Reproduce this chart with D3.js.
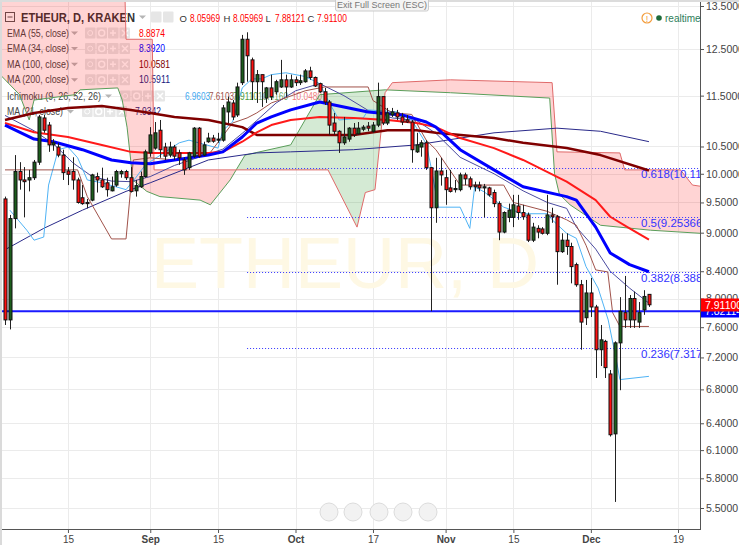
<!DOCTYPE html>
<html>
<head>
<meta charset="utf-8">
<script src="https://cdnjs.cloudflare.com/ajax/libs/d3/7.8.5/d3.min.js"></script>
<style>
  body { margin: 0; background: #fff; }
  text { font-family: Arial, "Liberation Sans", sans-serif; }
</style>
</head>
<body>
<div id="chart"></div>
<script>
// ETHEUR daily candles, Kraken, from 2 Aug 2016
const firstDay = "2016-08-02";
const opens = [9.56, 7.70, 9.23, 10.04, 9.89, 9.89, 9.93, 10.21, 11.05, 10.91,
  10.53, 10.49, 10.34, 10.05, 10.04, 9.89, 9.58, 9.50, 9.54, 9.95,
  9.89, 9.84, 9.70, 9.80, 10.00, 10.04, 9.93, 9.70, 9.77, 9.95,
  10.38, 10.47, 10.81, 10.49, 10.34, 10.49, 10.38, 10.25, 10.11, 10.32,
  10.85, 10.34, 10.59, 10.66, 10.62, 10.62, 11.17, 11.35, 11.11, 11.77,
  12.72, 12.26, 11.79, 11.94, 11.45, 11.66, 11.58, 11.68, 11.83, 11.68,
  11.83, 11.77, 11.79, 12.02, 11.88, 11.75, 11.58, 11.37, 10.95, 10.79,
  10.57, 10.64, 10.85, 10.74, 10.83, 10.89, 10.79, 10.91, 11.48, 10.95,
  11.11, 11.15, 11.07, 11.01, 10.97, 10.40, 10.49, 10.57, 10.11, 9.41,
  10.05, 9.93, 9.75, 9.72, 9.72, 9.98, 9.91, 9.80, 9.80, 9.75,
  9.75, 9.67, 9.48, 9.01, 9.25, 9.25, 9.44, 9.33, 9.29, 8.88,
  9.07, 9.06, 8.99, 9.29, 9.26, 8.70, 8.88, 8.78, 8.50, 8.20,
  7.73, 8.08, 7.88, 7.30, 7.41, 6.99, 6.28, 7.39, 7.80, 7.70,
  8.00, 7.67, 7.84, 8.05969];
const highs = [9.60, 9.29, 10.34, 10.21, 10.12, 10.07, 10.25, 11.11, 11.11, 10.97,
  10.64, 10.57, 10.44, 10.12, 10.30, 9.93, 9.80, 9.56, 10.00, 10.02,
  10.11, 9.93, 9.95, 10.07, 10.07, 10.07, 10.12, 9.89, 10.04, 10.44,
  10.87, 10.97, 11.01, 10.57, 10.59, 10.53, 10.44, 10.30, 10.40, 10.87,
  10.87, 10.59, 10.76, 10.72, 10.76, 11.31, 11.48, 11.41, 11.77, 12.82,
  12.88, 12.31, 12.04, 11.94, 11.68, 11.94, 11.83, 12.26, 11.94, 11.94,
  11.90, 11.94, 12.06, 12.11, 11.90, 11.77, 11.66, 11.41, 11.15, 10.81,
  11.07, 10.87, 10.95, 10.97, 10.91, 10.97, 10.97, 11.77, 11.48, 11.25,
  11.25, 11.21, 11.15, 11.11, 11.01, 10.76, 10.62, 10.62, 10.12, 10.29,
  10.29, 10.07, 10.07, 9.89, 10.02, 10.02, 9.95, 9.86, 9.86, 9.82,
  9.77, 9.72, 9.52, 9.35, 9.48, 9.63, 9.63, 9.46, 9.33, 9.16,
  9.12, 9.09, 9.63, 9.41, 9.29, 8.99, 8.99, 8.84, 8.53, 8.27,
  8.27, 8.30, 7.91, 7.63, 7.43, 7.04, 7.41, 8.02, 8.33, 8.05,
  8.10, 7.95, 8.12, 8.05969];
const lows = [7.63, 7.57, 9.07, 9.72, 9.25, 9.69, 9.89, 10.16, 10.76, 10.40,
  10.42, 10.30, 9.89, 9.80, 9.72, 9.48, 9.46, 9.40, 9.52, 9.67,
  9.75, 9.60, 9.69, 9.77, 9.93, 9.89, 9.67, 9.60, 9.75, 9.93,
  10.31, 10.44, 10.29, 10.25, 10.30, 10.25, 10.16, 9.98, 10.07, 10.29,
  10.29, 10.32, 10.57, 10.57, 10.57, 10.59, 10.95, 11.01, 11.07, 11.72,
  11.79, 11.41, 11.35, 11.27, 11.35, 11.41, 11.52, 11.66, 11.48, 11.66,
  11.70, 11.72, 11.77, 11.83, 11.68, 11.56, 11.31, 10.72, 10.72, 10.38,
  10.53, 10.59, 10.68, 10.72, 10.79, 10.79, 10.76, 10.87, 10.91, 10.91,
  11.07, 11.01, 10.91, 10.95, 10.20, 10.38, 10.31, 10.07, 7.82, 9.16,
  9.79, 9.46, 9.67, 9.67, 9.69, 9.80, 9.72, 9.69, 9.69, 9.25,
  9.60, 9.42, 8.88, 8.99, 9.17, 9.09, 9.21, 9.21, 8.85, 8.85,
  8.91, 8.97, 8.96, 9.16, 8.20, 8.68, 8.65, 8.22, 8.17, 7.30,
  7.63, 7.74, 6.94, 7.09, 6.94, 6.25, 5.56, 6.79, 7.59, 7.59,
  7.59, 7.59, 7.77, 7.88121];
const closes = [7.70, 9.23, 10.04, 9.89, 9.86, 9.93, 10.21, 11.07, 10.81, 10.53,
  10.57, 10.34, 10.02, 9.99, 9.89, 9.50, 9.48, 9.48, 9.98, 9.89,
  9.77, 9.72, 9.77, 10.04, 10.04, 9.93, 9.69, 9.79, 9.95, 10.40,
  10.72, 10.76, 10.44, 10.32, 10.49, 10.32, 10.29, 10.07, 10.38, 10.85,
  10.32, 10.53, 10.66, 10.60, 10.64, 11.25, 11.37, 11.07, 11.68, 12.72,
  12.35, 11.79, 11.94, 11.79, 11.66, 11.48, 11.79, 11.83, 11.68, 11.83,
  11.77, 11.81, 12.02, 11.88, 11.70, 11.58, 11.37, 10.91, 10.79, 10.57,
  10.68, 10.85, 10.72, 10.85, 10.87, 10.85, 10.91, 11.48, 10.95, 11.15,
  11.17, 11.07, 10.97, 10.97, 10.44, 10.53, 10.57, 10.11, 9.41, 10.05,
  9.98, 9.72, 9.69, 9.74, 9.98, 9.91, 9.77, 9.77, 9.75, 9.77,
  9.63, 9.48, 9.01, 9.33, 9.37, 9.46, 9.33, 9.26, 8.88, 9.09,
  9.01, 8.99, 9.29, 9.26, 8.70, 8.88, 8.78, 8.47, 8.20, 7.67,
  8.08, 7.88, 7.30, 7.43, 7.07, 6.27, 7.39, 7.82, 7.70, 8.00,
  7.70, 7.80, 8.03, 7.91100];

// indicator lines: [day from firstDay, price]
const ema55 = [[0,10.95],[6,10.77],[13,10.68],[20,10.53],[26,10.40],[30,10.38],[35,10.38],[42,10.38],[45,10.40],
  [49,10.59],[52,10.77],[55,10.91],[59,11.01],[65,11.07],[72,11.05],[79,11.01],[85,10.95],[89,10.87],[94,10.66],
  [101,10.47],[107,10.25],[116,9.86],[122,9.54],[125,9.26],[129,9.07],[133,8.8874]];
const ema34 = [[0,10.91],[6,10.64],[10,10.59],[16,10.44],[22,10.25],[26,10.20],[30,10.18],[35,10.25],[42,10.34],
  [45,10.40],[49,10.68],[52,10.95],[55,11.07],[59,11.21],[65,11.37],[68,11.31],[75,11.17],[82,11.11],[87,10.97],
  [89,10.87],[94,10.44],[101,10.07],[107,9.77],[116,9.60],[118,9.54],[122,9.09],[125,8.68],[129,8.50],[133,8.3920]];
const ma100 = [[0,11.01],[6,11.15],[13,11.25],[20,11.29],[26,11.21],[30,11.15],[35,11.07],[42,11.01],[49,10.87],
  [52,10.72],[59,10.72],[72,10.72],[79,10.81],[85,10.81],[89,10.76],[101,10.66],[107,10.57],[116,10.47],
  [123,10.34],[133,10.0581]];
const ma200 = [[0,8.73],[8,9.07],[16,9.37],[25,9.69],[30,9.84],[42,10.25],[52,10.38],[59,10.40],[72,10.44],
  [85,10.53],[101,10.76],[114,10.85],[123,10.79],[133,10.5911]];
const ma21 = [[0,11.10],[6,10.80],[10,10.55],[14,10.20],[18,9.95],[22,9.87],[26,9.86],[30,9.95],[35,10.15],
  [40,10.30],[45,10.45],[49,10.75],[52,11.00],[56,11.35],[60,11.60],[65,11.75],[70,11.50],[75,11.20],[80,11.05],
  [85,11.00],[89,10.75],[94,10.30],[101,10.00],[107,9.70],[112,9.50],[116,9.40],[118,9.09],[122,8.74],[125,8.40],
  [129,8.15],[133,7.9342]];
const tenkan = [[1,9.37],[4.5,9.04],[6,8.88],[8,8.93],[9,9.80],[11,10.44],[13,10.49],[15,10.29],[17,9.89],
  [20,9.84],[25,9.72],[27,9.93],[29,10.16],[36,10.57],[38,10.62],[44,10.47],[45,10.81],[47,10.97],[49,11.66],
  [51,11.85],[53,11.85],[55,11.94],[58,11.98],[62,11.90],[65,11.75],[67,11.35],[69,11.01],[74,11.05],[75,11.21],
  [81,11.17],[84,11.01],[87,10.55],[88,10.12],[89.5,9.42],[94,9.42],[96,9.07],[97,9.77],[99,9.68],[103,9.42],
  [107,9.31],[112,9.31],[113,9.21],[116,8.99],[118,8.91],[120,8.47],[122.5,8.15],[124.6,7.70],[126.5,7.09],
  [127,6.92],[133,6.9603]];
const kijun = [[0,10.07],[15,10.07],[17,9.60],[22,8.90],[25,8.90],[26.5,10.25],[30,10.29],[35,10.25],[42,10.34],
  [47,10.95],[50,11.05],[52,11.15],[55,11.35],[62,11.60],[66,11.68],[75,11.68],[76,11.40],[80,11.15],[84,11.12],
  [87,10.62],[89,10.44],[94,9.80],[103,9.80],[105,9.50],[112,9.35],[116,9.21],[118,9.12],[120,8.80],[122,8.42],
  [124.5,8.39],[125.5,7.80],[127,7.6103],[133,7.6103]];
const leadA = [[-1,11.94],[3,11.52],[5,11.01],[6,11.41],[14.5,11.52],[15.5,11.62],[23.3,11.66],[24.2,11.41],
  [25.2,10.87],[26.4,9.89],[29.3,9.69],[32,9.60],[40.3,9.54],[42.4,9.46],[46.5,9.89],[49.6,10.34],[59,10.53],
  [65,11.52],[78.5,11.62],[92,11.56],[112.5,11.45],[113.5,10.0],[114.5,9.64],[116.7,9.46],[123,9.12],
  [133.3,9.04],[143.6,8.99]];
const leadB = [[-1,14.7],[24.6,14.7],[25,12.72],[30.4,12.72],[30.8,10.07],[66.7,10.07],[72.7,9.09],[74.4,9.67],
  [76.4,9.72],[78.5,11.56],[80,11.77],[92,11.83],[113,11.77],[114,10.40],[127,10.38],[128,10.07],[139.5,10.07],
  [142,9.80],[143.6,9.78]];

// fibonacci retracement levels
const fibLevels = [0.618, 0.5, 0.382, 0.236];
const fibPrices = [10.11, 9.25366, 8.388, 7.317];
const fibStartDay = 50;
const supportLine = 7.82114;

const yTicks = [13.5, 12.5, 11.5, 10.5, 10, 9.5, 9, 8.4, 8, 7.6, 7.2, 6.8, 6.4, 6.1, 5.8, 5.5];
const xTickDates = ["2016-08-15", "2016-09-01", "2016-09-15", "2016-10-01", "2016-10-17",
  "2016-11-01", "2016-11-15", "2016-12-01", "2016-12-19"];
const xTickLabels = ["15", "Sep", "15", "Oct", "17", "Nov", "15", "Dec", "19"];

const legendRows = [
  { name: "EMA (55, close)", value: "8.8874", color: "#ff0000" },
  { name: "EMA (34, close)", value: "8.3920", color: "#0000ff" },
  { name: "MA (100, close)", value: "10.0581", color: "#800000" },
  { name: "MA (200, close)", value: "10.5911", color: "#1a1a80" }
];
const ichiValues = ["6.9603", "7.6103", "7.9110", "10.4160", "10.0480"];
const ichiColors = ["#3ea8f0", "#a0524a", "#4a9a3a", "#6aa86a", "#f08080"];

const W = 739, H = 545, plotW = 700, plotH = 529;
const parse = d3.utcParse("%Y-%m-%d");
const day0 = parse(firstDay);
const day = i => d3.utcHour.offset(day0, Math.round(i * 24));

const x = d3.scaleUtc().domain([day0, parse("2016-12-19")]).range([5, 678]);
const y = d3.scaleLog().domain([5.5, 13.5]).range([508, 6]);

const svg = d3.select("#chart").append("svg").attr("width", W).attr("height", H);

svg.append("defs").append("clipPath").attr("id", "plot")
  .append("rect").attr("width", plotW).attr("height", plotH);

// grid
const grid = svg.append("g");
grid.selectAll(".hg").data(yTicks).enter().append("line")
  .attr("x1", 0).attr("x2", plotW)
  .attr("y1", d => Math.round(y(d)) + 0.5).attr("y2", d => Math.round(y(d)) + 0.5)
  .attr("stroke", "#ebebeb");
grid.selectAll(".vg").data(xTickDates).enter().append("line")
  .attr("x1", d => Math.round(x(parse(d))) + 0.5).attr("x2", d => Math.round(x(parse(d))) + 0.5)
  .attr("y1", 0).attr("y2", plotH)
  .attr("stroke", "#ebebeb");

// watermark
svg.append("text").attr("x", 345).attr("y", 288).attr("text-anchor", "middle")
  .attr("font-size", 72).attr("fill", "#fef8e4").text("ETHEUR, D");

// legend (sits under the plot marks)
const lg = svg.append("g");
const lf = 10;
function icons(g, x0, yc) {
  [0, 1, 2, 3].forEach(k => {
    g.append("rect").attr("x", x0 + k * 11.5).attr("y", yc - 5.5).attr("width", 10.5).attr("height", 11)
      .attr("rx", 1).attr("fill", "#e6e6e6");
  });
  g.append("circle").attr("cx", x0 + 5.2).attr("cy", yc).attr("r", 2.5).attr("fill", "none").attr("stroke", "#fff");
  g.append("circle").attr("cx", x0 + 16.7).attr("cy", yc).attr("r", 3).attr("fill", "none").attr("stroke", "#fff").attr("stroke-width", 1.5);
  g.append("path").attr("d", `M${x0 + 25},${yc}h6M${x0 + 28},${yc - 3}v6`).attr("stroke", "#fff").attr("stroke-width", 1.5);
  g.append("path").attr("d", `M${x0 + 37},${yc - 3}l6,6M${x0 + 43},${yc - 3}l-6,6`).attr("stroke", "#fff").attr("stroke-width", 1.5);
}
function label(xx, yy, txt, width, opts) {
  const t = lg.append("text").attr("x", xx).attr("y", yy).attr("font-size", opts.size || lf)
    .attr("fill", opts.color || "#444").text(txt);
  if (opts.bold) t.attr("font-weight", "bold");
  if (width) t.attr("textLength", width).attr("lengthAdjust", "spacingAndGlyphs");
  return t;
}
function arrow(xx, yy) {
  lg.append("path").attr("d", `M${xx},${yy - 1.5}l3.5,3.5l3.5,-3.5z`).attr("fill", "#b5b5b5");
}
// header
lg.append("rect").attr("x", 5.5).attr("y", 12.5).attr("width", 9).attr("height", 9).attr("fill", "none").attr("stroke", "#555");
lg.append("line").attr("x1", 7.5).attr("x2", 12.5).attr("y1", 17).attr("y2", 17).attr("stroke", "#555");
label(21, 22, "ETHEUR, D, KRAKEN", 114, { size: 12.5, bold: true, color: "#333" });
arrow(139, 17);
[151, 163].forEach(xx => {
  lg.append("rect").attr("x", xx).attr("y", 11.5).attr("width", 10.5).attr("height", 11).attr("rx", 1).attr("fill", "#e6e6e6");
});
const ohlcTxt = [["O", 179.5], ["8.05969", 190], ["H", 223.5], ["8.05969", 233], ["L", 265.5], ["7.88121", 275], ["C", 307.5], ["7.91100", 317]];
ohlcTxt.forEach((t, k) => {
  label(t[1], 21.5, t[0], k % 2 ? 30 : 0, { size: k % 2 ? 10 : 9.5, color: k % 2 ? "#ff0000" : "#333" });
});
legendRows.forEach((r, k) => {
  const yc = 33 + k * 15.6;
  label(7, yc + 3.5, r.name, 62, {});
  arrow(71, yc);
  icons(lg, 85, yc);
  label(139, yc + 3.5, r.value, r.value.length > 6 ? 31 : 26, { color: r.color });
});
label(7, 99.5, "Ichimoku (9, 26, 52, 26)", 94, {});
arrow(105, 96);
icons(lg, 120, 96);
[185, 209, 233, 258, 292].forEach((xx, k) => {
  label(xx, 99.5, ichiValues[k], ichiValues[k].length > 6 ? 30 : 25, { color: ichiColors[k] });
});
label(7, 115, "MA (21, close)", 56, {});
arrow(67, 111.5);
icons(lg, 82, 111.5);
label(135, 115, "7.9342", 26, { color: "#1a1a80" });

// plot
const plot = svg.append("g").attr("clip-path", "url(#plot)");
const px = d => x(day(d[0]));
const py = d => y(d[1]);

// ichimoku cloud: pink where span B is above span A, green where span A is above
const defs = svg.select("defs");
defs.append("clipPath").attr("id", "aboveA").append("path")
  .attr("d", d3.area().x(px).y0(-100).y1(py)(leadA));
defs.append("clipPath").attr("id", "belowA").append("path")
  .attr("d", d3.area().x(px).y0(plotH + 100).y1(py)(leadA));
plot.append("path").attr("clip-path", "url(#aboveA)")
  .attr("d", d3.area().x(px).y0(plotH + 100).y1(py)(leadB))
  .attr("fill", "#ff0000").attr("fill-opacity", 0.17);
plot.append("path").attr("clip-path", "url(#belowA)")
  .attr("d", d3.area().x(px).y0(-100).y1(py)(leadB))
  .attr("fill", "#008000").attr("fill-opacity", 0.17);

const line = d3.line().x(px).y(py);
function drawLine(data, color, width) {
  plot.append("path").datum(data).attr("d", line)
    .attr("fill", "none").attr("stroke", color).attr("stroke-width", width).attr("stroke-linejoin", "round");
}
drawLine(leadA, "#5a9e5a", 1);
drawLine(leadB, "#e06a6a", 1);

// fibonacci levels
fibPrices.forEach((p, k) => {
  const yy = Math.round(y(p)) + 0.5;
  plot.append("line").attr("x1", x(day(fibStartDay))).attr("x2", plotW).attr("y1", yy).attr("y2", yy)
    .attr("stroke", "#3333ff").attr("stroke-dasharray", "1,2");
  plot.append("text").attr("x", 641).attr("y", yy + 9).attr("font-size", 11.5).attr("fill", "#3333ff")
    .text(fibLevels[k] + "(" + p + ")");
});

drawLine(ma200, "#2a2a8a", 1);
drawLine(ma21, "#4b4ba0", 1);
drawLine(tenkan, "#4fb3f5", 1);
drawLine(kijun, "#a0524a", 1);
drawLine(ma100, "#800000", 2.5);
drawLine(ema55, "#ff1a1a", 2);
drawLine(ema34, "#0000ff", 3);

// support line
plot.append("line").attr("x1", 0).attr("x2", plotW)
  .attr("y1", y(supportLine)).attr("y2", y(supportLine))
  .attr("stroke", "#1a1aff").attr("stroke-width", 2);

// candles
const candles = opens.map((o, i) => ({ d: day(i), o, h: highs[i], l: lows[i], c: closes[i] }));
const cg = plot.append("g");
cg.selectAll(".wick").data(candles).enter().append("line")
  .attr("x1", d => Math.round(x(d.d)) + 0.5).attr("x2", d => Math.round(x(d.d)) + 0.5)
  .attr("y1", d => y(d.h)).attr("y2", d => y(d.l))
  .attr("stroke", "#222");
cg.selectAll(".body").data(candles).enter().append("rect")
  .attr("x", d => Math.round(x(d.d)) - 1)
  .attr("y", d => y(Math.max(d.o, d.c)))
  .attr("width", 3)
  .attr("height", d => Math.max(1, Math.abs(y(d.o) - y(d.c))))
  .attr("fill", d => d.c >= d.o ? "#1c5e1c" : "#ff1010")
  .attr("stroke", "#111").attr("stroke-width", 1);

// axes
const ya = svg.append("g").attr("transform", `translate(${plotW},0)`)
  .call(d3.axisRight(y).tickValues(yTicks).tickFormat(d3.format(".4f")).tickSize(4).tickPadding(2));
ya.select(".domain").remove();
ya.selectAll("line").attr("stroke", "#555");
ya.selectAll("text").attr("font-size", 10.5).attr("fill", "#444").attr("font-family", "Arial, 'Liberation Sans', sans-serif");

const xa = svg.append("g").attr("transform", `translate(0,${plotH})`)
  .call(d3.axisBottom(x).tickValues(xTickDates.map(parse)).tickFormat((d, i) => xTickLabels[i]).tickSize(4).tickPadding(3));
xa.select(".domain").remove();
xa.selectAll("line").attr("stroke", "#555");
xa.selectAll("text").attr("font-size", 10).attr("fill", "#444").attr("font-family", "Arial, 'Liberation Sans', sans-serif")
  .attr("font-weight", (d, i) => isNaN(+xTickLabels[i]) ? "bold" : "normal");

svg.append("line").attr("x1", plotW + 0.5).attr("x2", plotW + 0.5).attr("y1", 0).attr("y2", plotH + 1)
  .attr("stroke", "#555");
svg.append("line").attr("x1", 0).attr("x2", plotW + 1).attr("y1", plotH + 0.5).attr("y2", plotH + 0.5)
  .attr("stroke", "#555");
svg.append("rect").attr("x", 0).attr("y", 0).attr("width", 2).attr("height", H).attr("fill", "#dadada");
svg.append("rect").attr("x", 0).attr("y", 0).attr("width", W).attr("height", 2).attr("fill", "#dcdcdc");

// price labels on the axis
function priceTag(p, fill, txt) {
  const yy = Math.round(y(p));
  svg.append("rect").attr("x", plotW + 1).attr("y", yy - 6.5).attr("width", W - plotW).attr("height", 13).attr("fill", fill);
  svg.append("text").attr("x", plotW + 5).attr("y", yy + 4).attr("font-size", 10.5).attr("fill", "#fff").text(txt);
}
priceTag(supportLine, "#0000ff", "7.82114");
priceTag(closes[closes.length - 1], "#ff0000", "7.91100");

// top bar: tooltip and realtime badge
svg.append("rect").attr("x", 335.5).attr("y", -3).attr("width", 93).attr("height", 14).attr("rx", 2)
  .attr("fill", "#f4f4f4").attr("stroke", "#ccc");
svg.append("text").attr("x", 382).attr("y", 8).attr("text-anchor", "middle").attr("font-size", 9).attr("fill", "#777")
  .text("Exit Full Screen (ESC)");
svg.append("circle").attr("cx", 647).attr("cy", 18).attr("r", 5).attr("fill", "none").attr("stroke", "#f39c3c").attr("stroke-width", 1.2);
svg.append("text").attr("x", 647).attr("y", 21.5).attr("text-anchor", "middle").attr("font-size", 9).attr("fill", "#f39c3c").text("!");
svg.append("circle").attr("cx", 659).attr("cy", 18).attr("r", 2.8).attr("fill", "#1e6b3a");
svg.append("text").attr("x", 665).attr("y", 21.5).attr("font-size", 10).attr("fill", "#2e7d5a").text("realtime");

// scroll buttons
[329, 353, 379, 403, 428].forEach(cx => {
  svg.append("circle").attr("cx", cx).attr("cy", 512).attr("r", 9).attr("fill", "#f2f2f2").attr("stroke", "#dcdcdc");
});
</script>
</body>
</html>
